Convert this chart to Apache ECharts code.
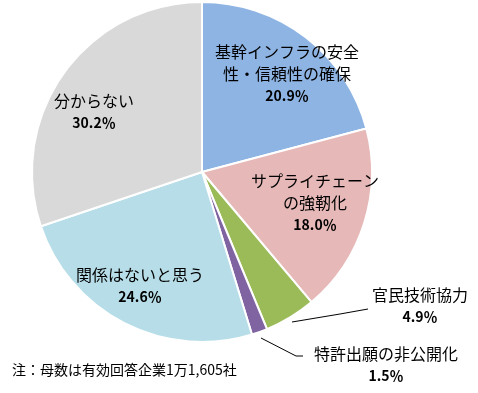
<!DOCTYPE html>
<html><head><meta charset="utf-8">
<script src="https://cdn.jsdelivr.net/npm/echarts@6/dist/echarts.min.js"></script>
<style>html,body{margin:0;padding:0;background:#fff;}#c{width:478px;height:393px;}</style>
</head><body><div id="c"></div>
<script>
const categories = ['基幹インフラの安全\n性・信頼性の確保', 'サプライチェーン\nの強靭化', '官民技術協力', '特許出願の非公開化', '関係はないと思う', '分からない'];
const values = [20.9, 18.0, 4.9, 1.5, 24.6, 30.2];
const colors = ['#8EB4E3', '#E6B9B8', '#9BBB59', '#8064A2', '#B7DEE8', '#D9D9D9'];
const note = '注：母数は有効回答企業1万1,605社';

const labelPos = [[287, 74], [315, 203], [420, 306], [386, 365], [140, 286], [94, 112]];
const linePts = [null, null, [[292, 322], [340, 314], [368, 309]], [[261, 338], [296, 356], [303, 356]], null, null];

const font = '"Noto Sans CJK JP", sans-serif';
const chart = echarts.init(document.getElementById('c'));
chart.setOption({
  animation: false,
  graphic: [{type: 'text', left: 12, top: 363, style: {text: note, font: '14px ' + font, fill: '#000'}}],
  series: [{
    type: 'pie',
    center: [202, 172],
    radius: 170,
    startAngle: 90,
    clockwise: true,
    avoidLabelOverlap: false,
    itemStyle: {borderColor: '#fff', borderWidth: 2},
    data: categories.map((n, i) => ({
      name: n, value: values[i],
      itemStyle: {color: colors[i]},
      labelLine: {show: linePts[i] !== null}
    })),
    label: {
      show: true,
      position: 'outside',
      overflow: 'none',
      width: 300,
      formatter: p => '{n|' + p.name.split('\n').join('}\n{n|') + '}\n{p|' + values[p.dataIndex].toFixed(1) + '％}',
      align: 'center',
      verticalAlign: 'middle',
      rich: {
        n: {fontFamily: font, fontSize: 16, color: '#000', lineHeight: 22, align: 'center'},
        p: {fontFamily: font, fontSize: 14, fontWeight: 'bold', color: '#000', lineHeight: 22, align: 'center'}
      }
    },
    labelLine: {lineStyle: {color: '#000', width: 1}},
    labelLayout: function (params) {
      const i = params.dataIndex;
      const r = {x: labelPos[i][0], y: labelPos[i][1], align: 'center', verticalAlign: 'middle', hideOverlap: false, moveOverlap: null};
      if (linePts[i]) r.labelLinePoints = linePts[i];
      return r;
    }
  }]
});
</script></body></html>
